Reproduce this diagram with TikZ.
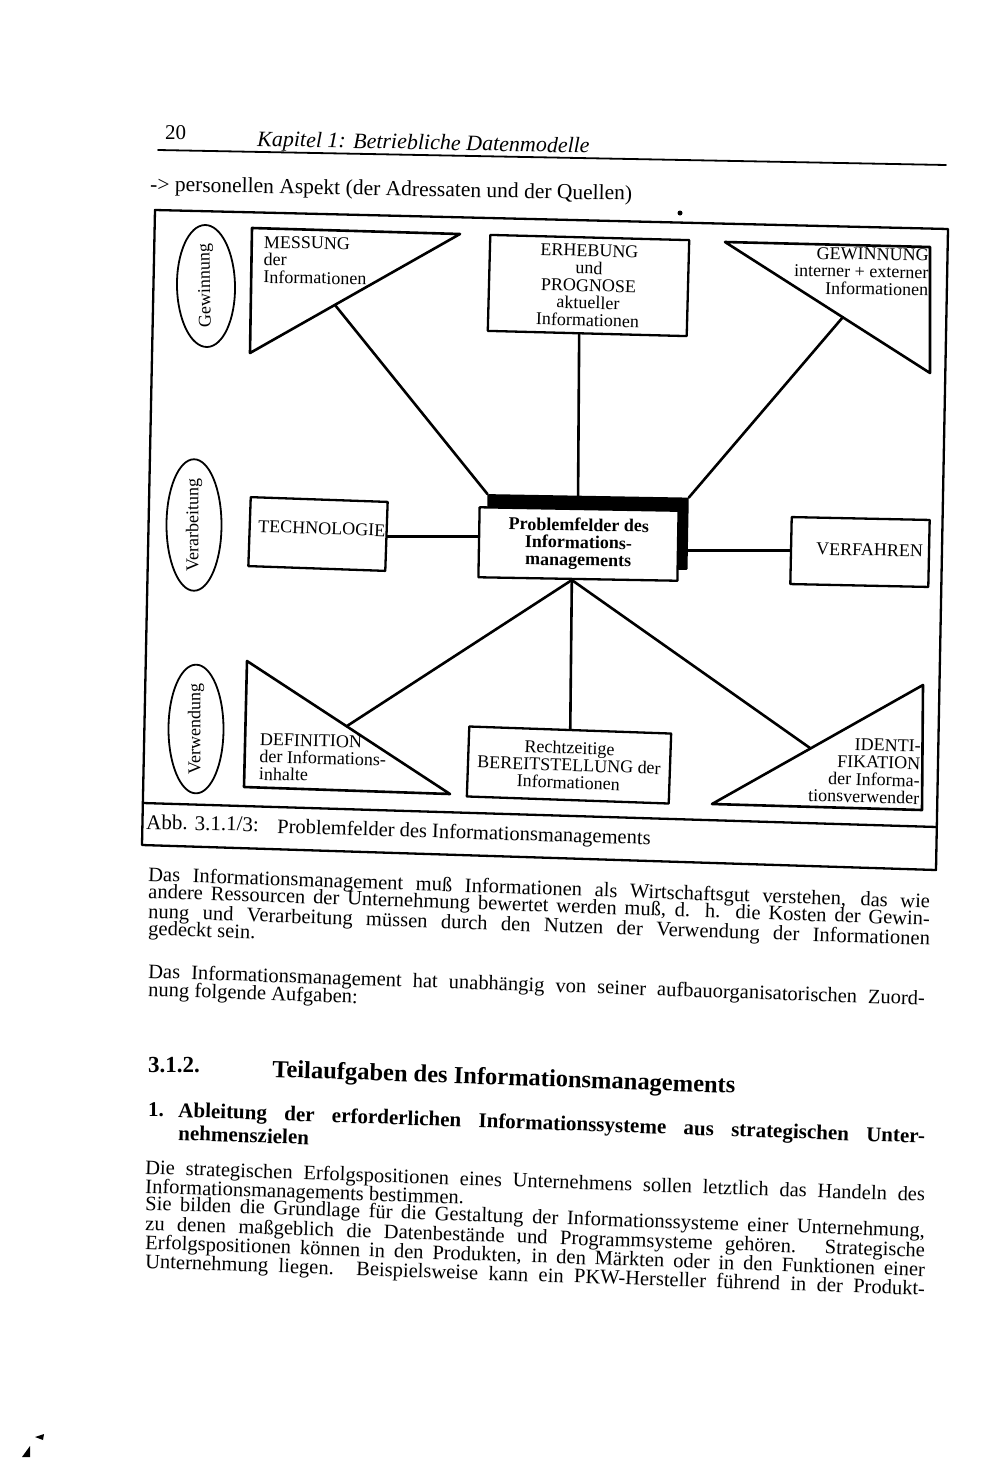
\documentclass[tikz,border=0pt]{standalone}
\usepackage{fontspec}
\setmainfont{Liberation Serif}
\usetikzlibrary{shapes.geometric,calc}
\newcommand{\diagfont}{\fontsize{18}{17.4}\selectfont}
\newcommand{\bodyfont}{\fontsize{20.5}{20.5}\selectfont}
\newcommand{\fullline}[2][782pt]{\makebox[#1][s]{#2}}

\begin{document}
\begin{tikzpicture}[x=1pt,y=-1pt,line join=round,line cap=round,
    pageframe/.style={line width=2.3pt},
    link/.style={line width=2.6pt},
    tri/.style={line width=2.6pt},
    box/.style={draw,line width=2.3pt,fill=white,inner sep=0pt,align=center,font=\diagfont},
    oval/.style={draw,ellipse,line width=1.8pt,inner sep=0pt,font=\diagfont},
    lbl/.style={inner sep=0pt,font=\diagfont},
    bodyline/.style={anchor=base west,inner sep=0pt,rotate=-2,font=\bodyfont}]

  \useasboundingbox (0,0) rectangle (1000,1473);
  \fill[white] (0,0) rectangle (1000,1473);

  % page head
  \node[anchor=base west,inner sep=0pt,font=\fontsize{21}{21}\selectfont] (pagenum) at (165,139) {20};
  \node[anchor=base west,inner sep=0pt,rotate=-1.2,font=\fontsize{22}{22}\selectfont\itshape] (chapter) at (257,146) {Kapitel 1: Betriebliche Datenmodelle};
  \draw[line width=1.8pt] (158,150) -- (946,165);
  \node[anchor=base west,inner sep=0pt,rotate=-1.1,font=\fontsize{21.5}{21.5}\selectfont] (aspect) at (150,191) {-{}> personellen Aspekt (der Adressaten und der Quellen)};

  % frame of the figure
  \coordinate (ftl) at (155,210);
  \coordinate (ftr) at (948,229);
  \coordinate (fbr) at (936,870);
  \coordinate (fbl) at (142,845);
  \coordinate (csl) at (143,803);
  \coordinate (csr) at (937,827);
  \draw[pageframe] (ftl) -- (ftr) -- (fbr) -- (fbl) -- cycle;
  \draw[pageframe] (csl) -- (csr);
  \fill (680,213) circle (2.5pt);

  % phases
  \node[oval,minimum width=122pt,minimum height=58pt,rotate=91] (gew) at (206,286) {Gewinnung};
  \node[oval,minimum width=124pt,minimum height=55pt,rotate=90] (verarb) at (194,525) {Verarbeitung};
  \node[oval,minimum width=122pt,minimum height=55pt,rotate=90] (verw) at (196,729) {Verwendung};

  % triangles
  \coordinate (ma) at (252,228);
  \coordinate (mb) at (460,234);
  \coordinate (mc) at (250,353);
  \coordinate (mhyp) at (335,305);
  \draw[tri] (ma) -- (mb) -- (mc) -- cycle;
  \node[lbl,anchor=north west,align=left,rotate=-1] (mtext) at (264,236) {MESSUNG\\der\\Informationen};

  \coordinate (ga) at (725,242);
  \coordinate (gb) at (930,247);
  \coordinate (gc) at (930,373);
  \coordinate (ghyp) at (843,317);
  \draw[tri] (ga) -- (gb) -- (gc) -- cycle;
  \node[lbl,anchor=north east,align=right,rotate=-1] (gtext) at (929,249) {GEWINNUNG\\interner + externer\\Informationen};

  \coordinate (da) at (247,661);
  \coordinate (db) at (244,787);
  \coordinate (dc) at (450,794);
  \coordinate (dhyp) at (347,726);
  \draw[tri] (da) -- (db) -- (dc) -- cycle;
  \node[lbl,anchor=north west,align=left,rotate=-1.5] (dtext) at (260,733) {DEFINITION\\der Informations-\\inhalte};

  \coordinate (ia) at (923,685);
  \coordinate (ib) at (712,804);
  \coordinate (ic) at (922,810);
  \coordinate (ihyp) at (810,748);
  \draw[tri] (ia) -- (ib) -- (ic) -- cycle;
  \node[lbl,anchor=north east,align=right,rotate=-1.5] (itext) at (921,740) {IDENTI-\\FIKATION\\der Informa-\\tionsverwender};

  % boxes
  \node[box,minimum width=199pt,minimum height=96pt,rotate=-1.5] (erh) at (588.5,285.5) {ERHEBUNG\\und\\PROGNOSE\\aktueller\\Informationen};
  \node[box,minimum width=137pt,minimum height=69pt,rotate=-2] (tech) at (318,534) {};
  \node[lbl,anchor=base west,rotate=-2] (techtext) at (258,532) {TECHNOLOGIE};
  \node[box,minimum width=138pt,minimum height=67pt,rotate=-1.2] (verf) at (860,552) {};
  \node[lbl,anchor=base east,rotate=-1.2] (verftext) at (923,557) {VERFAHREN};
  \node[box,minimum width=202pt,minimum height=70pt,rotate=-2] (rb) at (569,765) {Rechtzeitige\\BEREITSTELLUNG der\\Informationen};

  % centre
  \node[box,fill=black,minimum width=199pt,minimum height=70pt,rotate=-1] (pimshadow) at (587.5,532) {};
  \node[box,minimum width=199pt,minimum height=70pt,rotate=-1,font=\diagfont\bfseries] (pim) at (578.5,544) {Problemfelder des\\Informations-\\managements};
  \coordinate (pimfoot) at ($(pim.south west)!0.47!(pim.south east)$);

  \draw[link] (mhyp) -- (pimshadow.north west);
  \draw[link] ($(erh.south west)!0.46!(erh.south east)$) -- ($(pimshadow.north west)!0.45!(pimshadow.north east)$);
  \draw[link] (ghyp) -- (pimshadow.north east);
  \draw[link] (tech.east) -- (tech.east -| pim.west);
  \draw[link] (verf.west -| pimshadow.east) -- (verf.west);
  \draw[link] (pimfoot) -- (dhyp);
  \draw[link] (pimfoot) -- (rb.north);
  \draw[link] (pimfoot) -- (ihyp);

  % caption
  \node[anchor=base west,inner sep=0pt,rotate=-1.2,font=\fontsize{21}{21}\selectfont] (capnum) at (146,829) {Abb. 3.1.1/3:};
  \node[anchor=base west,inner sep=0pt,rotate=-1.8,font=\fontsize{20.5}{20.5}\selectfont] (captext) at (277,833) {Problemfelder des Informationsmanagements};

  % text below
  \node[bodyline] (pa1) at (148,881) {\fullline{Das Informationsmanagement muß Informationen als Wirtschaftsgut verstehen, das wie}};
  \node[bodyline] (pa2) at (148,898) {\fullline{andere Ressourcen der Unternehmung bewertet werden muß, d. h. die Kosten der Gewin-}};
  \node[bodyline] (pa3) at (148,918) {\fullline{nung und Verarbeitung müssen durch den Nutzen der Verwendung der Informationen}};
  \node[bodyline] (pa4) at (148,935) {gedeckt sein.};

  \node[bodyline] (pb1) at (148,978) {\fullline[777pt]{Das Informationsmanagement hat unabhängig von seiner aufbauorganisatorischen Zuord-}};
  \node[bodyline] (pb2) at (148,996) {nung folgende Aufgaben:};

  \node[anchor=base west,inner sep=0pt,font=\fontsize{23}{23}\selectfont\bfseries] (secnum) at (148,1072) {3.1.2.};
  \node[anchor=base west,inner sep=0pt,rotate=-2,font=\fontsize{24.5}{24.5}\selectfont\bfseries] (sectitle) at (272,1077) {Teilaufgaben des Informationsmanagements};

  \node[anchor=base west,inner sep=0pt,font=\fontsize{21}{21}\selectfont\bfseries] (itemnum) at (148,1116) {1.};
  \node[bodyline,font=\fontsize{21}{21}\selectfont\bfseries] (itema) at (178,1117) {\fullline[747pt]{Ableitung der erforderlichen Informationssysteme aus strategischen Unter-}};
  \node[bodyline,font=\fontsize{21}{21}\selectfont\bfseries] (itemb) at (178,1140) {nehmenszielen};

  \node[bodyline] (pc1) at (145,1174) {\fullline[780pt]{Die strategischen Erfolgspositionen eines Unternehmens sollen letztlich das Handeln des}};
  \node[bodyline] (pc2) at (145,1193) {Informationsmanagements bestimmen.};
  \node[bodyline] (pc3) at (145,1210) {\fullline[780pt]{Sie bilden die Grundlage für die Gestaltung der Informationssysteme einer Unternehmung,}};
  \node[bodyline] (pc4) at (145,1230) {\fullline[780pt]{zu denen maßgeblich die Datenbestände und Programmsysteme gehören. Strategische}};
  \node[bodyline] (pc5) at (145,1249) {\fullline[780pt]{Erfolgspositionen können in den Produkten, in den Märkten oder in den Funktionen einer}};
  \node[bodyline] (pc6) at (145,1268) {\fullline[780pt]{Unternehmung liegen. Beispielsweise kann ein PKW-Hersteller führend in der Produkt-}};

  % scan marks
  \fill (35,1437) -- (44,1434) -- (43,1440) -- cycle;
  \fill (22,1457) -- (30,1446) -- (30,1457) -- cycle;
\end{tikzpicture}
\end{document}
